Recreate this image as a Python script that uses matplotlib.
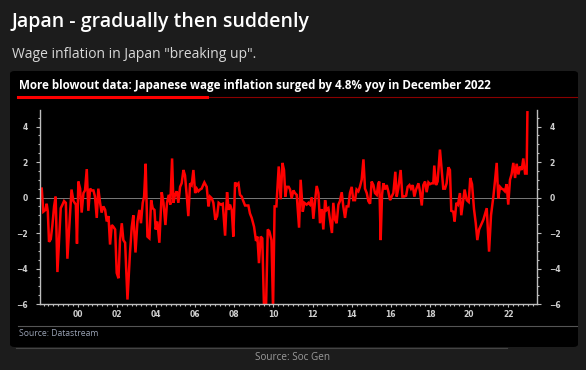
import matplotlib
matplotlib.use("Agg")
import matplotlib.pyplot as plt
from matplotlib.patches import FancyBboxPatch
from matplotlib.lines import Line2D
from matplotlib.ticker import MultipleLocator

# Japan wage inflation, % yoy (decimal years)
years = [
    1998.16, 1998.24, 1998.35, 1998.41, 1998.47, 1998.53, 1998.62, 1998.70, 1998.79, 1998.87,
    1998.96, 1999.13, 1999.22, 1999.30, 1999.39, 1999.47, 1999.57, 1999.68, 1999.78, 1999.90,
    1999.96, 2000.03, 2000.12, 2000.20, 2000.29, 2000.37, 2000.46, 2000.54, 2000.63, 2000.71,
    2000.80, 2000.88, 2000.97, 2001.05, 2001.14, 2001.22, 2001.31, 2001.40, 2001.48, 2001.57,
    2001.65, 2001.74, 2001.82, 2001.91, 2001.99, 2002.08, 2002.16, 2002.25, 2002.33, 2002.42,
    2002.54, 2002.67, 2002.76, 2002.84, 2002.95, 2003.05, 2003.15, 2003.23, 2003.32, 2003.39,
    2003.47, 2003.56, 2003.66, 2003.75, 2003.83, 2003.92, 2003.98, 2004.07, 2004.17, 2004.29,
    2004.38, 2004.48, 2004.56, 2004.65, 2004.73, 2004.82, 2004.89, 2004.97, 2005.06, 2005.14,
    2005.23, 2005.31, 2005.40, 2005.48, 2005.57, 2005.65, 2005.74, 2005.82, 2005.91, 2006.00,
    2006.08, 2006.16, 2006.25, 2006.33, 2006.47, 2006.59, 2006.68, 2006.76, 2006.85, 2006.93,
    2007.03, 2007.12, 2007.20, 2007.31, 2007.41, 2007.53, 2007.63, 2007.71, 2007.78, 2007.87,
    2007.95, 2008.04, 2008.12, 2008.21, 2008.29, 2008.38, 2008.46, 2008.55, 2008.72, 2008.80,
    2008.89, 2009.01, 2009.11, 2009.18, 2009.26, 2009.35, 2009.43, 2009.52, 2009.62, 2009.71,
    2009.79, 2009.90, 2009.98, 2010.06, 2010.15, 2010.27, 2010.37, 2010.46, 2010.54, 2010.61,
    2010.68, 2010.78, 2010.85, 2010.93, 2011.02, 2011.10, 2011.19, 2011.31, 2011.39, 2011.50,
    2011.58, 2011.70, 2011.79, 2011.87, 2011.96, 2012.04, 2012.13, 2012.21, 2012.30, 2012.38,
    2012.47, 2012.55, 2012.64, 2012.72, 2012.81, 2012.89, 2012.99, 2013.06, 2013.15, 2013.23,
    2013.32, 2013.40, 2013.49, 2013.57, 2013.66, 2013.74, 2013.83, 2013.91, 2014.00, 2014.08,
    2014.17, 2014.25, 2014.34, 2014.42, 2014.51, 2014.60, 2014.68, 2014.77, 2014.85, 2014.94,
    2015.02, 2015.11, 2015.19, 2015.28, 2015.36, 2015.41, 2015.48, 2015.55, 2015.62, 2015.70,
    2015.79, 2015.87, 2015.96, 2016.04, 2016.13, 2016.23, 2016.30, 2016.38, 2016.50, 2016.59,
    2016.67, 2016.78, 2016.86, 2016.95, 2017.03, 2017.12, 2017.20, 2017.29, 2017.41, 2017.49,
    2017.58, 2017.66, 2017.75, 2017.83, 2017.92, 2018.00, 2018.09, 2018.17, 2018.22, 2018.31,
    2018.39, 2018.51, 2018.60, 2018.68, 2018.77, 2018.85, 2018.94, 2019.02, 2019.09, 2019.19,
    2019.26, 2019.35, 2019.43, 2019.53, 2019.60, 2019.69, 2019.77, 2019.88, 2019.98, 2020.06,
    2020.15, 2020.25, 2020.34, 2020.42, 2020.51, 2020.73, 2020.90, 2021.02, 2021.12, 2021.24,
    2021.32, 2021.41, 2021.49, 2021.58, 2021.66, 2021.75, 2021.83, 2021.92, 2022.00, 2022.09,
    2022.17, 2022.26, 2022.35, 2022.43, 2022.52, 2022.60, 2022.69, 2022.77, 2022.86, 2022.94,
    2022.98,
]
wages = [
    0.5, -0.8, -0.7, -0.35, -0.8, -2.5, -2.35, -1.6, -0.5, 0.05,
    -4.2, -0.6, -0.4, -0.2, -0.3, -3.45, -1.6, 0.45, -0.2, -0.4,
    -2.6, 0.9, 0.5, -0.85, 0.25, 0.4, 1.6, -0.75, 0.5, 0.4,
    0.4, 0.05, -1.15, 0.5, -0.3, -0.85, -0.5, -0.7, -1.35, -1.05,
    -2.65, -1.55, -1.65, -1.8, -4.25, -4.55, -2.4, -1.45, -2.4, -2.55,
    -5.75, -3.1, -1.65, -1.0, -3.1, -1.35, -0.7, -1.45, -0.3, 0.05,
    1.9, -2.2, -2.3, -0.15, -0.6, -0.7, -1.8, -1.35, -2.55, 0.3,
    -0.3, -1.55, -0.3, 0.15, -0.4, 2.2, -0.3, 0.15, 0.35, -0.3,
    0.6, 0.8, 1.55, 1.25, 0.1, -1.05, 0.8, 0.7, 1.55, 0.25,
    0.5, 0.35, 0.45, 0.5, 0.85, 0.6, -0.5, 0.05, -0.05, -0.3,
    -1.25, -1.05, -0.3, -0.4, -0.35, -2.15, 0.3, -0.7, -0.4, -0.7,
    -2.2, 0.85, 0.7, 0.8, 0.15, 0.05, -0.2, -0.45, -0.45, -0.9,
    -1.15, -1.65, -2.45, -2.2, -3.7, -2.2, -2.3, -6.3, -6.3, -1.8,
    -1.9, -2.4, -6.3, -0.5, -0.5, 1.75, -0.1, 1.95, 1.55, 0.05,
    0.6, 0.6, 0.45, -0.05, 0.4, 0.25, 0.15, -1.7, 1.0, -0.8,
    -0.3, -0.4, -0.3, -0.4, 0.0, -1.2, -0.15, 0.65, 0.25, -1.45,
    -0.65, -1.8, -0.15, -0.7, -0.6, -1.25, -2.0, -0.3, -1.25, -1.45,
    -0.4, -0.2, 0.3, -0.5, -1.15, -0.5, -0.5, 0.25, 0.6, -0.15,
    -0.15, 0.45, 0.35, 0.6, 1.0, 2.15, 0.5, 0.25, -0.2, -0.35,
    0.9, 0.7, 0.25, 0.15, 0.8, 0.9, -2.4, 0.15, 0.8, 0.45,
    0.7, 0.35, -0.15, 0.05, 0.25, 1.45, 0.05, 0.5, 1.55, 0.05,
    0.05, 0.1, 0.6, 0.7, 0.5, 0.7, 0.05, 0.45, 0.8, 0.35,
    -0.45, 0.7, 0.9, 0.3, 0.85, 0.75, 0.8, 0.8, 1.8, 0.7,
    0.9, 2.7, 1.55, 0.5, 0.5, 0.8, 1.7, 1.55, -0.75, -0.8,
    -1.35, -0.3, -0.4, 0.25, -1.0, -0.25, 0.45, -0.15, -0.25, 1.1,
    0.75, -0.65, -1.45, -2.4, -1.8, -1.25, -0.6, -3.05, -1.0, 0.05,
    0.9, 1.95, -0.05, 0.6, 0.5, 0.45, 0.35, 0.75, -0.4, 1.0,
    1.3, 1.95, 1.1, 1.9, 1.3, 1.75, 1.55, 2.2, 1.35, 1.35,
    4.8,
]
year_ticks = list(range(2000, 2023, 2))
year_labels = ["00", "02", "04", "06", "08", "10", "12", "14", "16", "18", "20", "22"]
y_ticks = [-6, -4, -2, 0, 2, 4]

W, H = 586, 370
fig = plt.figure(figsize=(W / 100, H / 100), dpi=100, facecolor="#1c1c1c")

def fx(x):
    return x / W

def fy(y):
    return 1 - y / H

# headings
fig.text(fx(11), fy(22), "Japan - gradually then suddenly", color="white",
         fontsize=14, fontweight="semibold", family="Open Sans", va="center")
fig.text(fx(12), fy(54), 'Wage inflation in Japan "breaking up".', color="#d8d8d8",
         fontsize=10, family="Open Sans", va="center")

# black panel (behind the axes)
panel = FancyBboxPatch((fx(10), fy(347)), fx(568), 276 / H,
                       boxstyle="round,pad=0,rounding_size=0.008",
                       transform=fig.transFigure, facecolor="black", edgecolor="none",
                       zorder=-5)
fig.patches.append(panel)

fig.text(fx(19), fy(86), "More blowout data: Japanese wage inflation surged by 4.8% yoy in December 2022",
         color="white", fontsize=8.4, fontweight="bold", family="Open Sans", va="center")
fig.add_artist(Line2D([fx(18), fx(577)], [fy(96.5), fy(96.5)], color="#8a0000", lw=0.8,
                      transform=fig.transFigure))
fig.add_artist(Line2D([fx(18), fx(207)], [fy(96.5), fy(96.5)], color="#ff0000", lw=2.2,
                      transform=fig.transFigure))

# chart
ax = fig.add_axes([fx(40), fy(304), fx(497), (304 - 110) / H])
ax.set_zorder(2)
ax.set_facecolor("black")
ax.plot(years, wages, color="#ff0000", lw=1.8, solid_joinstyle="miter")
ax.axhline(0, color="#8c8c8c", lw=0.6, zorder=0)
ax.set_xlim(1998.07, 2023.47)
ax.set_ylim(-6, 4.93)

ax.set_xticks(year_ticks)
ax.set_xticklabels(year_labels)
ax.xaxis.set_minor_locator(MultipleLocator(0.25))
ax.set_yticks(y_ticks)
ax.yaxis.set_minor_locator(MultipleLocator(0.5))

ax.spines["top"].set_visible(False)
for side in ["left", "right", "bottom"]:
    ax.spines[side].set_color("#bdbdbd")
    ax.spines[side].set_linewidth(1.0)

ax.tick_params(axis="both", which="both", colors="#bdbdbd", labelcolor="#d0d0d0",
               labelsize=5.5, width=0.8)
ax.tick_params(axis="y", which="major", length=3, direction="out", right=True,
               labelright=True, pad=6)
ax.tick_params(axis="y", which="minor", length=1.5, right=True)
ax.tick_params(axis="x", which="major", length=2, direction="out", pad=2)
ax.tick_params(axis="x", which="minor", length=1.2, direction="out")
for lab in ax.get_xticklabels() + ax.get_yticklabels():
    lab.set_fontweight("bold")

# footer
fig.add_artist(Line2D([fx(18), fx(577)], [fy(326), fy(326)], color="#555555", lw=0.8,
                      transform=fig.transFigure))
fig.text(fx(19), fy(334), "Source: Datastream", color="#9aa3b5", fontsize=6.2,
         family="Open Sans", va="center")
fig.add_artist(Line2D([fx(16), fx(507)], [fy(347.5), fy(347.5)], color="#444444", lw=0.8,
                      transform=fig.transFigure))
fig.text(0.5, fy(358), "Source: Soc Gen", color="#9a9a9a", fontsize=7.2,
         family="Open Sans", ha="center", va="center")

fig.savefig("out.png", dpi=100, facecolor=fig.get_facecolor())
